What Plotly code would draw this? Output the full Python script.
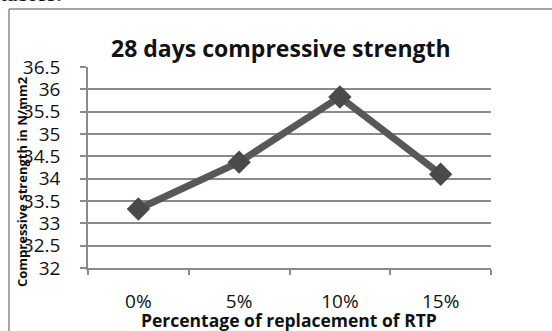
import plotly.graph_objects as go

categories = ["0%", "5%", "10%", "15%"]
strength = [33.32, 34.37, 35.83, 34.1]
y_ticks = [32, 32.5, 33, 33.5, 34, 34.5, 35, 35.5, 36, 36.5]
y_labels = ["32", "32.5", "33", "33.5", "34", "34.5", "35", "35.5", "36", "36.5"]

W, H = 552, 331
L, R, T, B = 88, 61, 67, 63
PW, PH = W - L - R, H - T - B


def px(x):
    return (x - L) / PW


def py(y):
    return (H - y - B) / PH


fig = go.Figure()
fig.add_trace(go.Scatter(
    x=categories, y=strength, mode="lines+markers",
    line=dict(color="#585858", width=7),
    marker=dict(symbol="diamond", size=18, color="#4a4a4a"),
    showlegend=False, cliponaxis=False,
))

grid = "#8a8a8a"
fig.update_layout(
    width=W, height=H,
    margin=dict(l=L, r=R, t=T, b=B, pad=0),
    paper_bgcolor="white", plot_bgcolor="white",
    font=dict(family="Open Sans", color="#111111"),
    xaxis=dict(
        type="category", range=[-0.5, 3.5], tickson="boundaries",
        ticks="outside", ticklen=5, tickcolor=grid, tickwidth=1.5,
        showline=True, linecolor=grid, linewidth=1.5,
        showgrid=False, tickfont=dict(size=19, color="#111111"),
        ticklabelstandoff=15,
    ),
    yaxis=dict(
        range=[32, 36.5], tickvals=y_ticks, ticktext=y_labels,
        ticks="outside", ticklen=6, tickcolor=grid, tickwidth=1.5,
        showline=True, linecolor=grid, linewidth=1.5,
        showgrid=True, gridcolor=grid, gridwidth=1.5,
        zeroline=False, tickfont=dict(size=19, color="#111111"),
        ticklabelstandoff=16,
    ),
    shapes=[
        dict(type="line", xref="paper", yref="paper",
             x0=px(9), x1=px(560), y0=py(9), y1=py(9),
             line=dict(color="#8a8a8a", width=1.5)),
        dict(type="line", xref="paper", yref="paper",
             x0=px(9), x1=px(9), y0=py(9), y1=py(340),
             line=dict(color="#8a8a8a", width=1.5)),
    ],
    annotations=[
        dict(text="<b>28 days compressive strength</b>", xref="paper", yref="paper",
             x=px(281), y=py(48), xanchor="center", yanchor="middle", showarrow=False,
             font=dict(size=23, color="#111111", family="Open Sans")),
        dict(text="<b>Percentage of replacement of RTP</b>", xref="paper", yref="paper",
             x=px(289), y=py(320), xanchor="center", yanchor="middle", showarrow=False,
             font=dict(size=17.5, color="#111111", family="Open Sans")),
        dict(text="<b>Compressive strength in N/mm2</b>", xref="paper", yref="paper",
             x=px(22), y=py(182), xanchor="center", yanchor="middle", showarrow=False,
             textangle=-90,
             font=dict(size=13, color="#111111", family="Open Sans")),
        dict(text="tables.", xref="paper", yref="paper",
             x=px(-2), y=py(8), xanchor="left", yanchor="bottom", showarrow=False,
             font=dict(size=24, color="#111111", family="Liberation Serif")),
    ],
)

fig.write_html("out.html")
